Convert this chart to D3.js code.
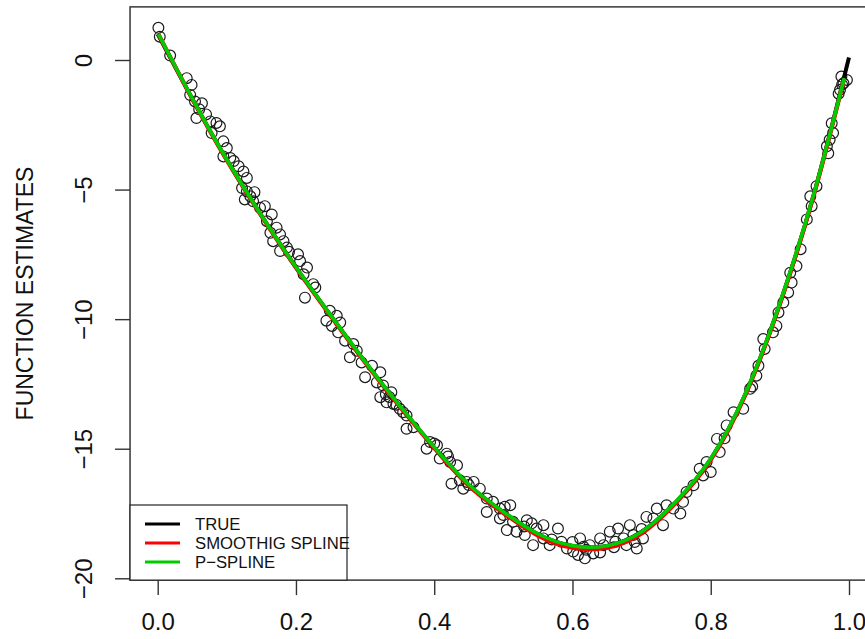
<!DOCTYPE html>
<html>
<head>
<meta charset="utf-8">
<script src="https://cdn.jsdelivr.net/npm/d3@7"></script>
<style>
  html, body { margin: 0; padding: 0; background: #fff; }
  svg { display: block; }
  text { font-family: "Liberation Sans", Arial, sans-serif; fill: #111; }
</style>
</head>
<body>
<svg id="chart" width="865" height="639"></svg>
<script>
// ---------- data ----------
const ptsX = [
  0.001,0.003,0.018,0.042,0.049,0.047,0.054,0.064,0.056,0.076,0.085,0.090,0.078,0.095,0.100,0.095,0.105,0.117,0.124,0.129,
  0.122,0.129,0.134,0.126,0.138,0.148,0.155,0.165,0.158,0.172,0.163,0.177,0.167,0.182,0.187,0.177,0.203,0.206,0.216,0.211,
  0.225,0.213,0.228,0.249,0.259,0.244,0.264,0.252,0.261,0.271,0.283,0.288,0.278,0.295,0.310,0.322,0.300,0.317,0.326,0.338,
  0.322,0.331,0.341,0.350,0.355,0.360,0.370,0.360,0.394,0.404,0.389,0.418,0.408,0.423,0.433,0.425,0.437,0.447,0.457,0.442,
  0.466,0.476,0.485,0.476,0.495,0.495,
  0.502,0.510,0.500,0.514,0.505,0.519,0.534,0.541,0.548,0.558,0.531,0.543,0.558,0.567,0.579,0.584,0.592,0.601,0.611,0.616,
  0.625,0.608,0.618,0.630,0.640,0.645,0.654,0.666,0.683,0.662,0.674,0.688,0.678,0.693,0.702,0.707,0.722,0.717,0.731,0.736,
  0.746,0.756,0.760,0.765,0.775,0.784,0.789,
  0.794,0.813,0.809,0.823,0.833,0.847,0.857,0.866,0.869,0.878,0.876,0.890,0.895,0.898,0.905,0.912,0.917,0.915,0.924,0.939,
  0.946,0.944,0.953,0.968,0.972,0.977,0.975,0.987,0.992,0.997,0.989,
  0.060,0.070,0.110,0.140,0.190,0.330,0.335,0.345,0.400,0.420,0.450,0.530,0.570,0.600,0.620,0.640,0.660,0.690,0.700,0.800,
  0.820,0.860,0.930,0.970,0.990,0.985
];
const ptsY = [
  1.24,0.90,0.17,-0.70,-0.96,-1.35,-1.60,-1.67,-2.24,-2.37,-2.43,-2.56,-2.82,-3.14,-3.40,-3.72,-3.78,-4.10,-4.30,-4.55,
  -4.94,-5.07,-5.26,-5.38,-5.45,-5.70,-5.64,-5.96,-6.22,-6.47,-6.67,-6.73,-6.99,-6.99,-7.24,-7.37,-7.50,-7.76,-8.01,-8.27,
  -8.65,-9.17,-8.78,-9.68,-9.87,-10.06,-10.13,-10.26,-10.51,-10.83,-10.96,-11.22,-11.47,-11.67,-11.80,-12.05,-12.24,-12.44,-12.56,-12.82,
  -13.01,-13.21,-13.27,-13.46,-13.59,-13.72,-14.17,-14.23,-14.74,-14.87,-15.00,-15.19,-15.38,-15.51,-15.64,-16.35,-16.22,-16.28,-16.28,-16.54,
  -16.54,-16.92,-17.05,-17.44,-17.31,-17.69,
  -17.24,-17.18,-17.56,-17.82,-18.14,-18.20,-17.76,-17.88,-18.08,-17.95,-18.33,-18.72,-18.46,-18.72,-18.08,-18.59,-18.85,-18.97,-18.46,-18.78,
  -18.72,-19.10,-19.23,-19.04,-18.46,-18.72,-18.20,-18.08,-17.95,-18.59,-18.46,-18.33,-18.72,-18.85,-18.46,-17.63,-17.31,-17.69,-17.95,-17.18,
  -17.31,-17.50,-17.05,-16.67,-16.41,-15.77,-16.03,
  -15.51,-15.13,-14.62,-14.10,-13.59,-13.46,-12.69,-12.18,-11.80,-11.15,-10.77,-10.51,-10.26,-9.74,-9.36,-8.97,-8.59,-8.21,-7.95,-6.15,
  -5.64,-5.26,-4.87,-3.33,-3.08,-2.82,-2.44,-1.15,-0.90,-0.77,-0.64,
  -1.90,-2.10,-3.90,-5.10,-7.40,-12.90,-13.00,-13.30,-14.80,-15.30,-16.40,-18.00,-18.50,-18.60,-18.90,-19.00,-18.80,-18.60,-18.10,-15.90,
  -14.60,-12.60,-7.30,-3.60,-0.95,-1.30
];

const trueX = [0,0.05,0.10,0.15,0.20,0.25,0.30,0.35,0.40,0.45,0.50,0.55,0.60,0.65,0.70,0.75,0.80,0.85,0.90,0.95,1.00];
const trueY = [1.0,-1.5,-3.85,-6.0,-8.0,-9.85,-11.65,-13.35,-14.95,-16.4,-17.45,-18.3,-18.75,-18.75,-18.2,-17.05,-15.4,-12.9,-9.4,-5.1,0.1];

const fitX = [0.001,0.05,0.10,0.15,0.20,0.25,0.30,0.35,0.40,0.45,0.50,0.55,0.60,0.65,0.70,0.75,0.80,0.85,0.90,0.95,0.993];
const ssY  = [1.0,-1.5,-3.87,-6.01,-8.01,-9.87,-11.67,-13.37,-14.97,-16.43,-17.48,-18.35,-18.82,-18.82,-18.27,-17.08,-15.43,-12.93,-9.43,-5.13,-0.72];
const psY  = [1.0,-1.48,-3.84,-5.99,-7.99,-9.84,-11.64,-13.34,-14.94,-16.38,-17.43,-18.28,-18.74,-18.74,-18.2,-17.03,-15.38,-12.88,-9.38,-5.08,-0.7];

const xTicks = [0, 0.2, 0.4, 0.6, 0.8, 1.0];
const yTicks = [0, -5, -10, -15, -20];
const legendLabels = ["TRUE", "SMOOTHIG SPLINE", "P\u2212SPLINE"];
const legendColors = ["#000000", "#ff0000", "#00cd00"];
const yLabel = "FUNCTION ESTIMATES";

// ---------- layout ----------
const svg = d3.select("#chart");
const x = d3.scaleLinear().domain([0, 1]).range([157.7, 849]);
const y = d3.scaleLinear().domain([0, -20]).range([60, 578.3]);

const xr = [-0.04, 1.04];
const yr = [2.05, -20.07];
const boxL = x(xr[0]), boxR = x(xr[1]), boxT = y(yr[0]), boxB = y(yr[1]);

// points
svg.append("g").selectAll("circle")
  .data(ptsX.map((d, i) => [d, ptsY[i]]))
  .join("circle")
  .attr("cx", d => x(d[0]))
  .attr("cy", d => y(d[1]))
  .attr("r", 5.4)
  .attr("fill", "none")
  .attr("stroke", "#1a1a1a")
  .attr("stroke-width", 1.2);

const line = d3.line().x(d => x(d[0])).y(d => y(d[1])).curve(d3.curveNatural);
svg.append("path").datum(trueX.map((d, i) => [d, trueY[i]]))
  .attr("d", line).attr("fill", "none").attr("stroke", legendColors[0]).attr("stroke-width", 4);
svg.append("path").datum(fitX.map((d, i) => [d, ssY[i]]))
  .attr("d", line).attr("fill", "none").attr("stroke", legendColors[1]).attr("stroke-width", 4.2);
svg.append("path").datum(fitX.map((d, i) => [d, psY[i]]))
  .attr("d", line).attr("fill", "none").attr("stroke", legendColors[2]).attr("stroke-width", 3.6);

// box
svg.append("rect")
  .attr("x", boxL).attr("y", boxT)
  .attr("width", boxR - boxL).attr("height", boxB - boxT)
  .attr("fill", "none").attr("stroke", "#444").attr("stroke-width", 1.6);

// x axis
const xAxis = d3.axisBottom(x).tickValues(xTicks).tickFormat(d3.format(".1f")).tickSize(15).tickPadding(18);
const gx = svg.append("g").attr("transform", `translate(0,${boxB})`).call(xAxis);
gx.select(".domain").remove();
gx.selectAll(".tick line").attr("stroke", "#333").attr("stroke-width", 1.4);
gx.selectAll(".tick text").attr("font-size", 24).attr("font-family", '"Liberation Sans", Arial, sans-serif').attr("fill", "#111");

// y axis
const yAxis = d3.axisLeft(y).tickValues(yTicks).tickFormat(d => d < 0 ? "\u2212" + Math.abs(d) : String(d)).tickSize(15);
const gy = svg.append("g").attr("transform", `translate(${boxL},0)`).call(yAxis);
gy.select(".domain").remove();
gy.selectAll(".tick line").attr("stroke", "#333").attr("stroke-width", 1.4);
gy.selectAll(".tick text")
  .attr("x", null).attr("dy", null)
  .attr("transform", `translate(${92 - boxL},0) rotate(-90)`)
  .attr("text-anchor", "middle")
  .attr("font-size", 24).attr("font-family", '"Liberation Sans", Arial, sans-serif').attr("fill", "#111");

// y label
svg.append("text")
  .attr("transform", `translate(33,${(boxT + boxB) / 2}) rotate(-90)`)
  .attr("text-anchor", "middle")
  .attr("font-size", 23)
  .text(yLabel);

// legend
const lg = svg.append("g");
lg.append("rect").attr("x", boxL).attr("y", 505).attr("width", 347 - boxL).attr("height", boxB - 505)
  .attr("fill", "#fff").attr("stroke", "#222").attr("stroke-width", 1.2);
const rows = [524, 543, 562];
legendLabels.forEach((lab, i) => {
  lg.append("line").attr("x1", 145).attr("x2", 180).attr("y1", rows[i]).attr("y2", rows[i])
    .attr("stroke", legendColors[i]).attr("stroke-width", 3);
  lg.append("text").attr("x", 195).attr("y", rows[i] + 6).attr("font-size", 16.7).text(lab);
});
</script>
</body>
</html>
